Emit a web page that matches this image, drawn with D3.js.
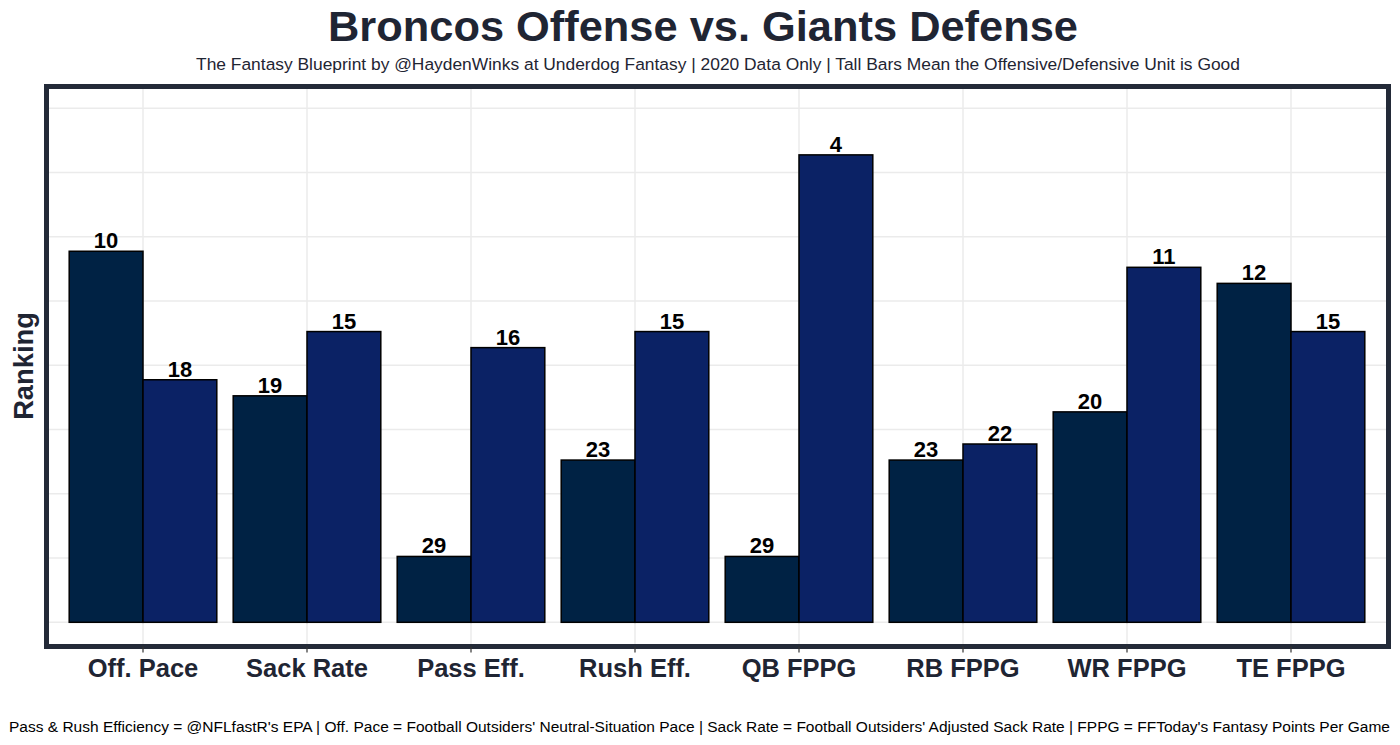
<!DOCTYPE html>
<html><head><meta charset="utf-8">
<script src="https://cdn.jsdelivr.net/npm/d3@7"></script>
<style>body{margin:0;background:#fff;}svg{display:block;font-family:"Liberation Sans",Arial,sans-serif;}</style>
</head><body><svg id="c" width="1400" height="745"></svg>
<script>
const categories = ["Off. Pace","Sack Rate","Pass Eff.","Rush Eff.","QB FPPG","RB FPPG","WR FPPG","TE FPPG"];
const broncosOffenseRank = [10,19,29,23,29,23,20,12];
const giantsDefenseRank = [18,15,16,15,4,22,11,15];
const gridRanks = [33.1,29.1,25.1,21.1,17.1,13.1,9.1,5.1,1.1];
const seriesNames = ["Broncos Offense","Giants Defense"];
const seriesColors = ["#002244","#0B2265"];

const svg = d3.select("#c");
const ink = "#1f2533";
const panel = {x0:47.5, x1:1387.5, y0:87.5, y1:645.5};

const x = d3.scaleBand().domain(categories).range([61, 1373]).paddingInner(0).paddingOuter(0);
const inner = d3.scaleBand().domain(seriesNames).range([0, x.bandwidth()*0.9]);
const y = d3.scaleLinear().domain([33.1, 1.1]).range([622.3, 108.3]);
const base = gridRanks[0];

const g = svg.append("g");
g.selectAll("line.h").data(gridRanks).join("line")
  .attr("x1", panel.x0).attr("x2", panel.x1)
  .attr("y1", d=>y(d)).attr("y2", d=>y(d))
  .attr("stroke", "#ebebeb").attr("stroke-width", 1.5);
g.selectAll("line.v").data(categories).join("line")
  .attr("x1", d=>x(d)+x.bandwidth()/2).attr("x2", d=>x(d)+x.bandwidth()/2)
  .attr("y1", panel.y0).attr("y2", panel.y1)
  .attr("stroke", "#ebebeb").attr("stroke-width", 1.5);

const rows = categories.map((c,i)=>({c, vals:[broncosOffenseRank[i], giantsDefenseRank[i]]}));
const groups = svg.append("g").selectAll("g").data(rows).join("g")
  .attr("transform", d=>`translate(${x(d.c)+x.bandwidth()*0.05},0)`);
groups.selectAll("rect").data(d=>d.vals.map((v,j)=>({v, s:seriesNames[j], j}))).join("rect")
  .attr("x", d=>inner(d.s)).attr("width", inner.bandwidth())
  .attr("y", d=>y(d.v)).attr("height", d=>y(base)-y(d.v))
  .attr("fill", d=>seriesColors[d.j]).attr("stroke", "#000").attr("stroke-width", 1.5);
groups.selectAll("text").data(d=>d.vals.map((v,j)=>({v, s:seriesNames[j], j}))).join("text")
  .attr("x", d=>inner(d.s)+inner.bandwidth()/2).attr("y", d=>y(d.v)-3)
  .attr("text-anchor","middle").attr("font-weight","bold").attr("font-size", 22).attr("fill","#000")
  .text(d=>d.v);

svg.append("rect").attr("x", panel.x0-1).attr("y", panel.y0-1)
  .attr("width", panel.x1-panel.x0+2).attr("height", panel.y1-panel.y0+2)
  .attr("fill","none").attr("stroke","#232a38").attr("stroke-width",5);

const xAxis = d3.axisBottom(x).tickSize(6).tickPadding(0);
const ax = svg.append("g").attr("transform", `translate(0,${panel.y1+1})`).call(xAxis);
ax.select(".domain").remove();
ax.selectAll(".tick line").attr("stroke","#333").attr("stroke-width",1.2);
ax.selectAll(".tick text").attr("font-size", 25.5).attr("font-weight","bold").attr("fill", ink)
  .attr("font-family",'"Liberation Sans",Arial,sans-serif').attr("dy",null).attr("y", 30);

svg.append("text").attr("x",703).attr("y",41).attr("text-anchor","middle")
  .attr("font-size",43.4).attr("font-weight","bold").attr("fill",ink)
  .text("Broncos Offense vs. Giants Defense");
svg.append("text").attr("x",718).attr("y",70).attr("text-anchor","middle")
  .attr("font-size",17.4).attr("fill",ink)
  .text("The Fantasy Blueprint by @HaydenWinks at Underdog Fantasy | 2020 Data Only | Tall Bars Mean the Offensive/Defensive Unit is Good");
svg.append("text").attr("transform","translate(33,366) rotate(-90)").attr("text-anchor","middle")
  .attr("font-size",27.3).attr("font-weight","bold").attr("fill",ink).text("Ranking");
svg.append("text").attr("x",1390).attr("y",732).attr("text-anchor","end")
  .attr("font-size",15.5).attr("fill","#000")
  .text("Pass & Rush Efficiency = @NFLfastR's EPA | Off. Pace = Football Outsiders' Neutral-Situation Pace | Sack Rate = Football Outsiders' Adjusted Sack Rate | FPPG = FFToday's Fantasy Points Per Game");
</script></body></html>
